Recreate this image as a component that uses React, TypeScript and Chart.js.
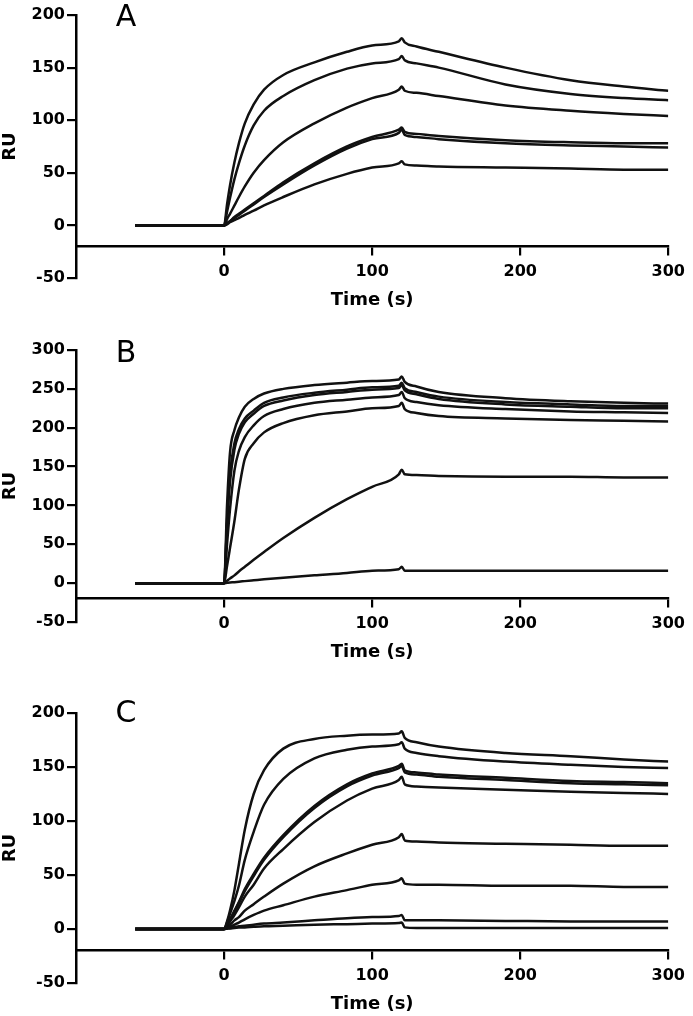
import React, { useEffect, useRef } from "react";
import { Chart, registerables } from "chart.js";

Chart.register(...registerables);

// Sample times (s) shared by every sensorgram
const TIME = [-60, 0, 2, 4, 7, 10, 14, 20, 27, 40, 61, 83, 100, 118, 120, 122, 130, 145, 190, 234, 270, 300];

// Panel A (RU)
const A1 = [0, 0, 20, 38, 60, 78, 97, 115, 129, 143, 155, 165, 171, 175, 178, 174, 170, 165, 150, 138, 132, 128];
const A2 = [0, 0, 13, 26, 44, 59, 76, 95, 109, 123, 138, 149, 154, 158, 161, 157, 154, 150, 134, 125, 121, 119];
const A3 = [0, 0, 6, 11, 19, 27, 37, 50, 62, 79, 97, 112, 121, 129, 132, 128, 126, 123, 114, 109, 106, 104];
const A4 = [0, 0, 2, 4, 8, 11, 15, 21, 28, 41, 59, 75, 84, 91, 93, 89, 87, 85, 81, 79, 78, 78];
const A5 = [0, 0, 2, 4, 7, 10, 14, 20, 27, 39, 57, 73, 82, 88, 91, 86, 84, 82, 78, 76, 75, 74];
const A6 = [0, 0, 1, 3, 5, 7, 10, 14, 19, 27, 39, 49, 55, 59, 61, 58, 57, 56, 55, 54, 53, 53];

// Panel B (RU)
const B1 = [0, 0, 100, 168, 197, 213, 227, 237, 244, 250, 255, 258, 260, 262, 266, 259, 253, 246, 238, 234, 232, 231];
const B2 = [0, 0, 80, 140, 180, 198, 212, 222, 232, 239, 245, 249, 252, 254, 258, 251, 246, 240, 233, 230, 228, 228];
const B3 = [0, 0, 75, 130, 172, 192, 207, 218, 228, 235, 242, 246, 249, 251, 255, 248, 243, 237, 230, 227, 225, 225];
const B4 = [0, 0, 50, 95, 145, 170, 188, 203, 215, 224, 232, 236, 239, 242, 246, 238, 233, 229, 224, 221, 220, 219];
const B5 = [0, 0, 22, 45, 80, 120, 160, 180, 194, 206, 216, 221, 225, 228, 232, 224, 219, 215, 212, 210, 209, 208];
const B6 = [0, 0, 3, 6, 10, 15, 21, 30, 40, 58, 84, 108, 124, 140, 146, 140, 139, 138, 137, 137, 136, 136];
const B7 = [0, 0, 0.4, 0.8, 1.3, 1.9, 2.6, 3.7, 5, 7, 10, 13, 16, 18, 21, 16, 16, 16, 16, 16, 16, 16];

// Panel C (RU)
const C1 = [0, 0, 7, 17, 36, 60, 92, 125, 147, 167, 176, 179, 180, 181, 183, 177, 173, 169, 163, 160, 157, 155];
const C2 = [0, 0, 6, 14, 26, 40, 64, 90, 115, 139, 158, 166, 169, 171, 173, 167, 163, 160, 155, 152, 150, 149];
const C3 = [0, 0, 4, 9, 17, 25, 37, 51, 66, 87, 114, 134, 144, 151, 153, 147, 145, 143, 140, 137, 136, 135];
const C4 = [0, 0, 4, 8, 16, 24, 35, 49, 64, 85, 112, 132, 142, 149, 151, 145, 143, 141, 138, 135, 134, 133];
const C5 = [0, 0, 3, 7, 13, 20, 30, 41, 56, 74, 99, 119, 130, 138, 141, 134, 132, 131, 129, 127, 126, 125];
const C6 = [0, 0, 2, 4, 8, 11, 17, 23, 30, 42, 58, 70, 78, 85, 88, 82, 81, 80, 79, 78, 77, 77];
const C7 = [0, 0, 1, 2, 4, 6, 9, 13, 17, 22, 30, 36, 41, 45, 47, 42, 41, 41, 40, 40, 39, 39];
const C8 = [0, 0, 0.5, 1, 2, 2.5, 3, 4, 5, 6, 8, 10, 11, 12, 13, 8, 8, 8, 7.5, 7, 7, 7];
const C9 = [0, 0, 0.3, 0.5, 1, 1.3, 1.5, 2, 2.5, 3, 4, 4.5, 5, 5.5, 6, 1.5, 1, 1, 1, 1, 1, 1];

// Axis ticks
const X_TICKS = [0, 100, 200, 300];
const X_MIN = -100;
const X_MAX = 300;
const X_AXIS_AT = -20;
const Y_MIN = -50;
const Y_STEP = 50;

const FONT = "'DejaVu Sans', sans-serif";

const letterPlugin = {
  id: "panelLetter",
  afterDraw(chart: any, _args: any, opts: any) {
    const { ctx, chartArea } = chart;
    ctx.save();
    ctx.font = `normal 30px ${FONT}`;
    ctx.fillStyle = "#000";
    ctx.textAlign = "center";
    ctx.textBaseline = "middle";
    ctx.fillText(opts.text, chartArea.left + opts.dx, chartArea.top + opts.dy);
    ctx.restore();
  },
};

type PanelProps = {
  letter: string;
  series: number[][];
  yMax: number;
  top: number;
  height: number;
  padTop: number;
  padBottom: number;
  letterDy: number;
};

function Panel({ letter, series, yMax, top, height, padTop, padBottom, letterDy }: PanelProps) {
  const ref = useRef<HTMLCanvasElement | null>(null);

  useEffect(() => {
    if (!ref.current) return;
    const chart = new Chart(ref.current, {
      type: "line",
      data: {
        datasets: series.map((vals, k) => ({
          label: `${letter}${k + 1}`,
          data: TIME.map((t, i) => ({ x: t, y: vals[i] })),
          borderColor: "#111",
          borderWidth: 2.5,
          pointRadius: 0,
          fill: false,
          tension: 0.4,
          cubicInterpolationMode: "monotone" as const,
        })),
      },
      options: {
        animation: false,
        responsive: false,
        layout: { padding: { top: padTop, bottom: padBottom, left: 0, right: 21 } },
        plugins: {
          legend: { display: false },
          tooltip: { enabled: false },
          panelLetter: { text: letter, dx: 50, dy: letterDy },
        } as any,
        scales: {
          x: {
            type: "linear",
            min: X_MIN,
            max: X_MAX,
            position: { y: X_AXIS_AT } as any,
            afterBuildTicks: (s: any) => {
              s.ticks = X_TICKS.map((v) => ({ value: v }));
            },
            grid: {
              drawOnChartArea: false,
              drawTicks: true,
              tickLength: 8,
              tickWidth: 2.2,
              tickColor: "#000",
              lineWidth: 2.2,
              color: "#000",
            },
            border: { display: true, color: "#000", width: 2.5 },
            ticks: {
              color: "#000",
              padding: 8,
              autoSkip: false,
              maxRotation: 0,
              font: { family: FONT, size: 16, weight: "bold" },
            },
            title: {
              display: true,
              text: "Time (s)",
              color: "#000",
              padding: { top: 0, bottom: 0 },
              font: { family: FONT, size: 18, weight: "bold" },
            },
          },
          y: {
            type: "linear",
            position: "left",
            min: Y_MIN,
            max: yMax,
            afterFit: (s: any) => {
              s.width = 76;
            },
            grid: {
              drawOnChartArea: false,
              drawTicks: true,
              tickLength: 9,
              tickWidth: 2.2,
              tickColor: "#000",
              lineWidth: 2.2,
              color: "#000",
            },
            border: { display: true, color: "#000", width: 2.5 },
            ticks: {
              stepSize: Y_STEP,
              color: "#000",
              padding: 2,
              font: { family: FONT, size: 16, weight: "bold" },
            },
            title: {
              display: true,
              text: "RU",
              color: "#000",
              padding: 0,
              font: { family: FONT, size: 18, weight: "bold" },
            },
          },
        },
      },
      plugins: [letterPlugin as any],
    });
    return () => chart.destroy();
  }, [letter, series, yMax, padTop, padBottom, letterDy]);

  return (
    <div style={{ position: "absolute", left: 0, top, width: 693, height }}>
      <canvas ref={ref} width={693} height={height} style={{ width: 693, height }} />
    </div>
  );
}

const SERIES_A = [A1, A2, A3, A4, A5, A6];
const SERIES_B = [B1, B2, B3, B4, B5, B6, B7];
const SERIES_C = [C1, C2, C3, C4, C5, C6, C7, C8, C9];

export default function App() {
  return (
    <div style={{ position: "absolute", left: 0, top: 0, width: 693, height: 1016, background: "#fff" }}>
      <Panel letter="A" series={SERIES_A} yMax={200} top={0} height={315} padTop={15} padBottom={37} letterDy={3} />
      <Panel letter="B" series={SERIES_B} yMax={300} top={330} height={330} padTop={20} padBottom={38} letterDy={4} />
      <Panel letter="C" series={SERIES_C} yMax={200} top={690} height={326} padTop={23} padBottom={33} letterDy={1} />
    </div>
  );
}
